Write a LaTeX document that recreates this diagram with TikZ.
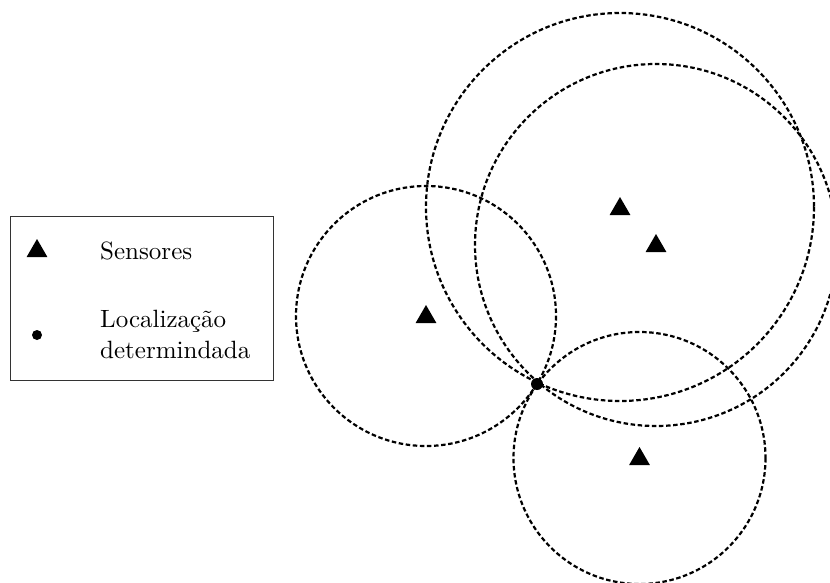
\documentclass[tikz,border=0pt]{standalone}
\usepackage{fontspec}
\setmainfont{lmroman10-regular}[Extension=.otf]
\usetikzlibrary{shapes.geometric}
\begin{document}
\begin{tikzpicture}[x=1pt,y=-1pt,
  sensor/.style={regular polygon,regular polygon sides=3,fill=black,draw=none,
    inner sep=0pt,minimum size=24pt},
  spot/.style={circle,fill=black,inner sep=0pt,minimum size=10pt},
  ring/.style={draw=black,line width=2.2pt,dash pattern=on 4.5pt off 2.6pt},
  legendbox/.style={draw=black!80,line width=0.9pt,fill=none},
  legendtext/.style={inner sep=0pt,font=\fontsize{25}{31}\selectfont,align=left}]
\useasboundingbox (0,0) rectangle (830,583);

% sensors and their range circles
\node[sensor] (s1) at (426,317) {};
\node[sensor] (s2) at (620,209) {};
\node[sensor] (s3) at (656,246) {};
\node[sensor] (s4) at (639.5,459) {};

\draw[ring] (426,316) circle[radius=130];
\draw[ring] (620,207) circle[radius=194];
\draw[ring] (656,245) circle[radius=181];
\draw[ring] (639.5,458) circle[radius=126];

% estimated position
\node[spot,minimum size=12pt] (loc) at (537,384) {};

% legend
\node[legendbox,minimum width=263pt,minimum height=164pt,inner sep=0pt] (box) at (141.5,298) {};
\node[sensor] (ls) at (37,251) {};
\node[legendtext,anchor=base west] (lst) at (100,259) {Sensores};
\node[spot] (ld) at (37,335) {};
\node[legendtext,anchor=west] (ldt) at (100,334) {Localização\\determindada};
\end{tikzpicture}
\end{document}
